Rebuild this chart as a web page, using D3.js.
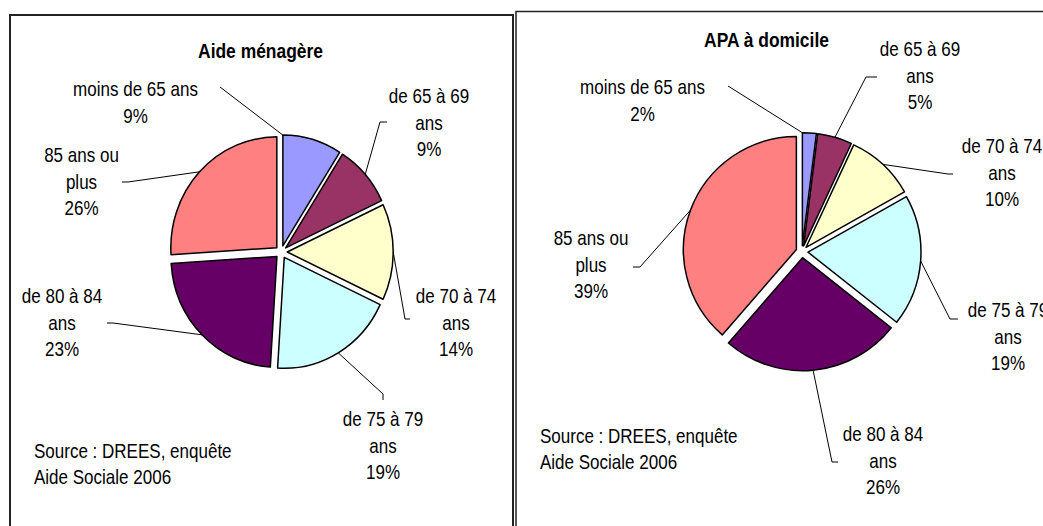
<!DOCTYPE html>
<html>
<head>
<meta charset="utf-8">
<script src="https://cdn.jsdelivr.net/npm/d3@7"></script>
<style>
  body { margin: 0; background: #fff; }
  svg { display: block; }
</style>
</head>
<body>
<svg id="chart"></svg>
<script>
var width = 1043, height = 526;

// data
var categories = ["moins de 65 ans", "de 65 à 69 ans", "de 70 à 74 ans", "de 75 à 79 ans", "de 80 à 84 ans", "85 ans ou plus"];
var aideMenagere = [9, 9, 14, 19, 23, 26];
var apaDomicile = [2, 5, 10, 19, 26, 39];
var sliceColors = ["#9999ff", "#993366", "#ffffcc", "#ccffff", "#660066", "#ff8080"];

// how each category label is wrapped in the two charts
var labelLinesLeft = [["moins de 65 ans"], ["de 65 à 69", "ans"], ["de 70 à 74", "ans"], ["de 75 à 79", "ans"], ["de 80 à 84", "ans"], ["85 ans ou", "plus"]];
var labelLinesRight = [["moins de 65 ans"], ["de 65 à 69", "ans"], ["de 70 à 74", "ans"], ["de 75 à 79", "ans"], ["de 80 à 84", "ans"], ["85 ans ou", "plus"]];
var sourceLines = ["Source : DREES, enquête", "Aide Sociale 2006"];

var svg = d3.select("#chart").attr("width", width).attr("height", height);

// no narrow face here: squeeze the Arial-metric one horizontally
var fontFam = "'Liberation Sans', Arial, sans-serif";
var squeeze = 0.83;

function addText(g, x, y, str, size, bold, anchor) {
    return g.append("text")
        .attr("transform", "translate(" + x + "," + y + ") scale(" + squeeze + ",1)")
        .attr("dy", "0.35em")
        .attr("text-anchor", anchor || "middle")
        .style("font-family", fontFam)
        .style("font-size", size + "px")
        .style("font-weight", bold ? "bold" : "normal")
        .style("fill", "#000")
        .text(str);
}

var panels = [
    {
        values: aideMenagere, lines: labelLinesLeft, title: "Aide ménagère",
        box: {x: 10, y: 15, w: 503, h: 540, sw: 2},
        titlePos: [260.5, 51],
        cx: 281.2, cy: 252, r: 106, sy: 1.046, explode: 6,
        labels: [
            {x: 135.5, y: 89, lead: [[220, 87]], at: 0},
            {x: 429, y: 96, lead: [[387, 122], [380, 122]], at: 0.5},
            {x: 456, y: 296, lead: [[410, 319], [405, 319]], at: 0.5},
            {x: 383, y: 419, lead: [[383, 400], [383, 394]], at: 0.5},
            {x: 62, y: 296, lead: [[107, 323], [113, 323]], at: 0.5},
            {x: 81.5, y: 155, lead: [[122, 182], [128, 182]], at: 0.5}
        ],
        source: [34, 450.5]
    },
    {
        values: apaDomicile, lines: labelLinesRight, title: "APA à domicile",
        box: {x: 516, y: 11.5, w: 540, h: 540, sw: 1.5},
        titlePos: [766.5, 40],
        cx: 802, cy: 251.7, r: 113, sy: 1, explode: 6,
        labels: [
            {x: 642.5, y: 87, lead: [[728, 86]], at: 0},
            {x: 920, y: 49, lead: [[877, 77], [866, 77]], at: 0.5},
            {x: 1002, y: 146, lead: [[953, 174], [948, 174]], at: 0.5},
            {x: 1008, y: 310, lead: [[958, 319], [950, 319]], at: 0.5},
            {x: 883, y: 434, lead: [[838, 462], [832, 462]], at: 0.5},
            {x: 591, y: 238, lead: [[633, 267], [640, 267]], at: 0.5}
        ],
        source: [540, 436]
    }
];

var pie = d3.pie().sort(null).value(function(d) { return d; });
var lineGen = d3.line();

panels.forEach(function(p) {
    var g = svg.append("g");

    g.append("rect")
        .attr("x", p.box.x).attr("y", p.box.y)
        .attr("width", p.box.w).attr("height", p.box.h)
        .attr("fill", "#fff")
        .attr("stroke", "#222")
        .attr("stroke-width", p.box.sw);

    var arcs = pie(p.values);
    var arc = d3.arc().innerRadius(0).outerRadius(p.r);

    var pieG = g.append("g")
        .attr("transform", "translate(" + p.cx + "," + p.cy + ") scale(1," + p.sy + ")");

    pieG.selectAll("path")
        .data(arcs)
        .enter().append("path")
        .attr("d", arc)
        .attr("transform", function(d) {
            var m = (d.startAngle + d.endAngle) / 2;
            return "translate(" + (p.explode * Math.sin(m)) + "," + (-p.explode * Math.cos(m)) + ")";
        })
        .attr("fill", function(d, i) { return sliceColors[i]; })
        .attr("stroke", "#000")
        .attr("stroke-width", 1.5)
        .attr("stroke-linejoin", "round")
        .attr("vector-effect", "non-scaling-stroke");

    // leader lines and labels
    arcs.forEach(function(d, i) {
        var lab = p.labels[i];
        var m = (d.startAngle + d.endAngle) / 2;
        var a = d.startAngle + lab.at * (d.endAngle - d.startAngle);
        var ox = p.explode * Math.sin(m), oy = -p.explode * Math.cos(m);
        var end = [p.cx + ox + p.r * Math.sin(a), p.cy + (oy - p.r * Math.cos(a)) * p.sy];
        var pts = lab.lead.concat([end]);
        g.append("path")
            .attr("d", lineGen(pts))
            .attr("fill", "none")
            .attr("stroke", "#000")
            .attr("stroke-width", 1);

        var txt = p.lines[i].concat([d.data + "%"]);
        txt.forEach(function(s, k) {
            addText(g, lab.x, lab.y + k * 26.5, s, 20.5, false);
        });
    });

    addText(g, p.titlePos[0], p.titlePos[1], p.title, 21, true);

    sourceLines.forEach(function(s, k) {
        addText(g, p.source[0], p.source[1] + k * 26, s, 20.5, false, "start");
    });
});
</script>
</body>
</html>
